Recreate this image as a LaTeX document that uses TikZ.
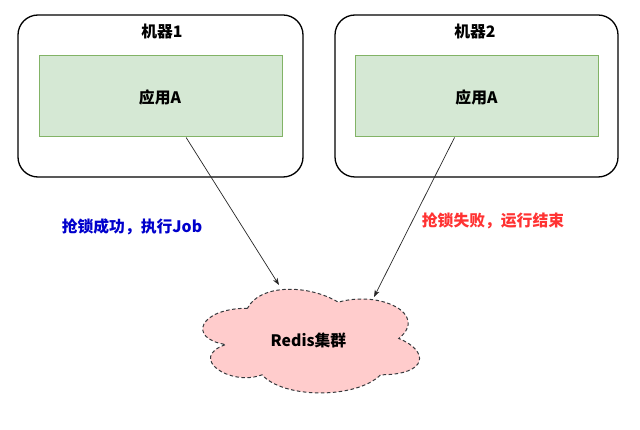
\documentclass[tikz,border=0pt]{standalone}
\usepackage{fontspec}
\setmainfont{Noto Sans CJK SC}
\usetikzlibrary{arrows.meta,calc}
\definecolor{greenfill}{HTML}{D5E8D4}
\definecolor{greenline}{HTML}{82B366}
\definecolor{cloudfill}{HTML}{FFCCCC}
\definecolor{cloudline}{HTML}{36393D}
\definecolor{okblue}{HTML}{0000CC}
\definecolor{failred}{HTML}{FF3333}
\begin{document}
\begin{tikzpicture}[x=1pt,y=-1pt,
  machine/.style={draw=black, line width=1.3pt, rounded corners=20pt, fill=white, inner sep=0pt},
  app/.style={draw=greenline, fill=greenfill, line width=1pt, inner sep=0pt},
  lbl/.style={font=\fontsize{15.8}{18}\selectfont\bfseries, inner sep=0pt},
  cloudsty/.style={draw=cloudline, fill=cloudfill, line width=1pt, dash pattern=on 3.5pt off 2.5pt},
  conn/.style={draw=black!85, line width=0.7pt, -{Stealth[length=7pt,width=5pt,inset=2pt]}}]
\useasboundingbox[fill=white] (0,0) rectangle (640,430);

% machines
\node[machine, minimum width=285pt, minimum height=162pt] (m1) at (160.5,96) {};
\node[machine, minimum width=283pt, minimum height=162pt] (m2) at (476.5,96) {};
\node[lbl] (m1t) at (162,31) {机器1};
\node[lbl] (m2t) at (475,31) {机器2};

% apps
\node[app, minimum width=243pt, minimum height=81pt] (a1) at (160.5,96.5) {};
\node[app, minimum width=243pt, minimum height=81pt] (a2) at (476.5,96.5) {};
\node[lbl] (a1t) at (160,97) {应用A};
\node[lbl] (a2t) at (476.5,97) {应用A};

% cloud
\begin{scope}[shift={(187,278)}, x=242pt, y=-121pt]
\path[cloudsty] (0.25,0.25) .. controls (0.05,0.25) and (0,0.5) .. (0.16,0.55)
  .. controls (0,0.66) and (0.18,0.9) .. (0.31,0.8)
  .. controls (0.4,1) and (0.7,1) .. (0.8,0.8)
  .. controls (1,0.8) and (1,0.6) .. (0.875,0.5)
  .. controls (1,0.3) and (0.8,0.1) .. (0.625,0.2)
  .. controls (0.5,0.05) and (0.3,0.05) .. (0.25,0.25) -- cycle;
\end{scope}
\node[lbl] (redis) at (308.5,340) {Redis集群};
\coordinate (r1) at (279,285);
\coordinate (r2) at (374,297);

% connectors
\draw[conn] ($(a1.south west)!0.605!(a1.south east)$) -- (r1);
\draw[conn] ($(a2.south west)!0.41!(a2.south east)$) -- (r2);

% labels
\node[lbl, text=okblue] (ok) at (132,227) {抢锁成功，执行Job};
\node[lbl, text=failred] (fail) at (493,221) {抢锁失败，运行结束};
\end{tikzpicture}
\end{document}
